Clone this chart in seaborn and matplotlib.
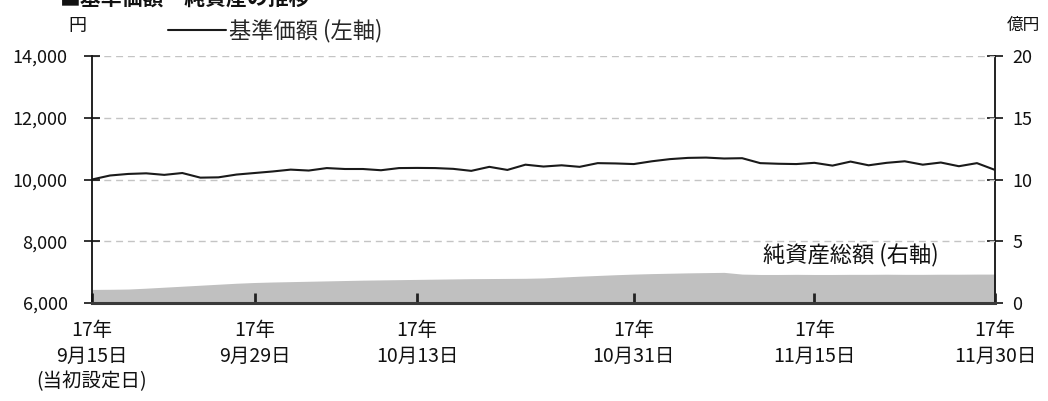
import matplotlib
matplotlib.use("Agg")
import matplotlib.pyplot as plt
import seaborn as sns
import numpy as np
import pandas as pd

# ---- data ----
dates = [
    "2017-09-15", "2017-09-19", "2017-09-20", "2017-09-21", "2017-09-22",
    "2017-09-25", "2017-09-26", "2017-09-27", "2017-09-28", "2017-09-29",
    "2017-10-02", "2017-10-03", "2017-10-04", "2017-10-05", "2017-10-06",
    "2017-10-10", "2017-10-11", "2017-10-12", "2017-10-13",
    "2017-10-16", "2017-10-17", "2017-10-18", "2017-10-19", "2017-10-20",
    "2017-10-23", "2017-10-24", "2017-10-25", "2017-10-26", "2017-10-27",
    "2017-10-30", "2017-10-31",
    "2017-11-01", "2017-11-02",
    "2017-11-06", "2017-11-07", "2017-11-08", "2017-11-09", "2017-11-10",
    "2017-11-13", "2017-11-14", "2017-11-15", "2017-11-16", "2017-11-17",
    "2017-11-20", "2017-11-21", "2017-11-22", "2017-11-24",
    "2017-11-27", "2017-11-28", "2017-11-29", "2017-11-30",
]
nav = [
    10000, 10130, 10180, 10200, 10150, 10210, 10060, 10070, 10160, 10210,
    10260, 10320, 10290, 10370, 10340, 10340, 10300, 10370, 10375,
    10370, 10345, 10280, 10410, 10310, 10480, 10420, 10460, 10410, 10530,
    10520, 10500, 10590, 10660, 10700, 10710, 10680, 10690, 10530, 10510,
    10500, 10540, 10450, 10580, 10460, 10540, 10590, 10480, 10550, 10430,
    10530, 10310,
]
net_assets = [
    1.10, 1.11, 1.13, 1.20, 1.28, 1.36, 1.44, 1.52, 1.60, 1.66,
    1.70, 1.73, 1.76, 1.79, 1.82, 1.85, 1.87, 1.89, 1.91, 1.93,
    1.95, 1.97, 1.98, 1.99, 2.00, 2.03, 2.10, 2.17, 2.23, 2.29,
    2.34, 2.38, 2.41, 2.44, 2.46, 2.48, 2.34, 2.31, 2.31, 2.32,
    2.31, 2.31, 2.32, 2.32, 2.33, 2.32, 2.32, 2.33, 2.33, 2.34,
    2.34,
]
tick_dates = ["2017-09-15", "2017-09-29", "2017-10-13", "2017-10-31", "2017-11-15", "2017-11-30"]
tick_labels = ["17年\n9月15日\n(当初設定日)", "17年\n9月29日", "17年\n10月13日",
               "17年\n10月31日", "17年\n11月15日", "17年\n11月30日"]
left_ticks = [6000, 8000, 10000, 12000, 14000]
right_ticks = [0, 5, 10, 15, 20]
title = "■基準価額・純資産の推移"
nav_label = "基準価額 (左軸)"
assets_label = "純資産総額 (右軸)"

# ---- style ----
sns.set_theme(style="white")
plt.rcParams["font.family"] = ["Noto Sans CJK JP", "DejaVu Sans"]

df = pd.DataFrame({"date": dates, "nav": nav, "assets": net_assets})
df["pos"] = np.arange(len(df))
tick_pos = [dates.index(d) for d in tick_dates]

W, H = 1048, 401
fig = plt.figure(figsize=(W / 100, H / 100), dpi=100)
ax = fig.add_axes([92 / W, (H - 303) / H, (995 - 92) / W, (303 - 56) / H])
ax2 = ax.twinx()

# area (right axis)
ax2.fill_between(df["pos"], df["assets"], 0, color="#c0c0c0", linewidth=0)
ax2.set_ylim(0, 20)
ax2.set_yticks(right_ticks)

# line (left axis), drawn above the area
ax.set_zorder(ax2.get_zorder() + 1)
ax.patch.set_visible(False)
sns.lineplot(data=df, x="pos", y="nav", ax=ax, color="#1a1a1a", linewidth=1.5, label=nav_label)
ax.set_ylim(6000, 14000)
ax.set_yticks(left_ticks)
ax.set_yticklabels([f"{v:,}" for v in left_ticks])
ax.set_xlim(0, len(df) - 1)
ax.set_xticks(tick_pos)
ax.set_xticklabels(tick_labels, linespacing=1.3)
ax.set_xlabel("")
ax.set_ylabel("")

ax.yaxis.grid(True, linestyle=(0, (5, 3.5)), color="#c4c4c4", linewidth=1.0)
ax.xaxis.grid(False)

for a in (ax, ax2):
    for s in a.spines.values():
        s.set_visible(False)
ax.spines["left"].set_visible(True)
ax.spines["left"].set_color("#111111")
ax.spines["left"].set_linewidth(1.3)
ax2.spines["right"].set_visible(True)
ax2.spines["right"].set_color("#111111")
ax2.spines["right"].set_linewidth(1.3)
ax.spines["bottom"].set_visible(True)
ax.spines["bottom"].set_color("#3a3a3a")
ax.spines["bottom"].set_linewidth(2.2)

ax.tick_params(axis="y", direction="inout", length=11, width=1.2, color="#111111",
               labelsize=13, pad=12, left=True, labelcolor="#111111")
ax2.tick_params(axis="y", direction="inout", length=11, width=1.2, color="#111111",
                labelsize=13, pad=7, right=True, labelcolor="#111111")
ax.tick_params(axis="x", direction="in", length=7, width=2, color="#222222",
               labelsize=14, pad=12, bottom=True, labelcolor="#111111")

# legend
leg = ax.legend(loc="center left", bbox_to_anchor=(168 / W, 1 - 31 / H),
                bbox_transform=fig.transFigure, frameon=False, fontsize=16,
                handlelength=2.6, handletextpad=0.15, borderpad=0, borderaxespad=0)
for line in leg.get_lines():
    line.set_linewidth(1.5)
    line.set_color("#1a1a1a")

# axis unit labels & annotations
fig.text(77 / W, 1 - 26 / H, "円", fontsize=13, ha="center", va="center", color="#111111")
fig.text(1023 / W, 1 - 25 / H, "億円", fontsize=12, ha="center", va="center", color="#111111")
ax.text((763 - 92) / (995 - 92), (303 - 255) / (303 - 56), assets_label, transform=ax.transAxes,
        fontsize=16, ha="left", va="center", color="#111111")
fig.text(60 / W, 1 - 5 / H, title, fontsize=15, fontweight="bold", ha="left", va="baseline",
         color="#111111")

fig.savefig("out.png", dpi=100)
